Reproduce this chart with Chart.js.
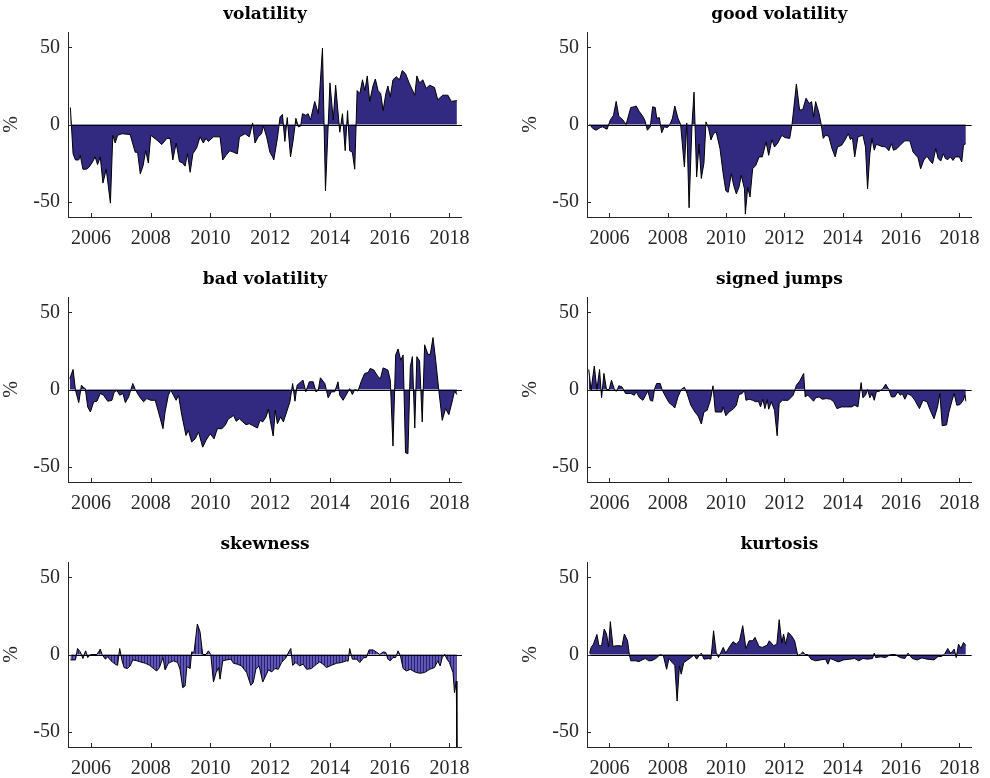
<!DOCTYPE html>
<html>
<head>
<meta charset="utf-8">
<script src="https://cdn.jsdelivr.net/npm/chart.js"></script>
<style>
  body { margin: 0; background: #fff; overflow: hidden; }
  #wrap { position: relative; width: 990px; height: 778px; }
  #wrap canvas { position: absolute; }
</style>
</head>
<body>
<div id="wrap">
  <canvas id="c1" width="480" height="248" style="left:0;top:0"></canvas>
  <canvas id="c2" width="471" height="248" style="left:519px;top:0"></canvas>
  <canvas id="c3" width="480" height="248" style="left:0;top:265px"></canvas>
  <canvas id="c4" width="471" height="248" style="left:519px;top:265px"></canvas>
  <canvas id="c5" width="480" height="248" style="left:0;top:530px"></canvas>
  <canvas id="c6" width="471" height="248" style="left:519px;top:530px"></canvas>
</div>
<script>
// tick labels
const yearTicks = [2006, 2008, 2010, 2012, 2014, 2016, 2018];
const pctTicks = [-50, 0, 50];

// volatility
const volYears = [2005.31,2005.40,2005.48,2005.59,2005.64,2005.73,2005.84,2005.92,2006.03,2006.14,
  2006.22,2006.31,2006.40,2006.51,2006.65,2006.73,2006.81,2006.89,2007.04,2007.31,
  2007.48,2007.56,2007.65,2007.74,2007.83,2007.92,2008.00,2008.20,2008.37,2008.54,
  2008.65,2008.74,2008.85,2008.96,2009.07,2009.15,2009.23,2009.32,2009.41,2009.54,
  2009.65,2009.76,2009.85,2009.93,2010.10,2010.32,2010.41,2010.52,2010.65,2010.77,
  2010.90,2010.97,2011.16,2011.30,2011.41,2011.49,2011.60,2011.71,2011.77,2011.88,
  2011.99,2012.08,2012.12,2012.24,2012.33,2012.41,2012.49,2012.57,2012.68,2012.77,
  2012.86,2012.94,2013.02,2013.08,2013.19,2013.27,2013.35,2013.49,2013.61,2013.75,
  2013.85,2014.00,2014.11,2014.19,2014.33,2014.42,2014.51,2014.59,2014.66,2014.75,
  2014.83,2014.91,2015.00,2015.09,2015.17,2015.25,2015.33,2015.44,2015.52,2015.61,
  2015.70,2015.78,2015.87,2015.94,2016.02,2016.11,2016.22,2016.33,2016.42,2016.53,
  2016.65,2016.84,2016.91,2017.00,2017.11,2017.22,2017.34,2017.50,2017.61,2017.69,
  2017.78,2017.95,2018.06,2018.25];
const volValues = [11,-19,-23,-23,-20,-29,-29,-28,-25,-21,
  -26,-21,-38,-29,-51,-7,-12,-7,-6,-6.5,
  -18,-18,-32,-27,-17,-25,-7,-10,-13,-9,
  -9,-23,-12,-24,-25,-27,-19,-31,-19,-15,
  -8,-12,-9,-11,-8,-8,-23,-20,-17,-18,
  -19,-8,-6,-8,1,-12,-8,-6,-1,-8,
  -18,-21,-23,-9,5,6.5,-11,4.5,-21,-10,
  4,-1.5,-1,7,6,7,3,15,7,49.5,
  -43,27,3,25.5,-5,7,-17,9,-17,-18,
  -29,22,20,29,22,31.5,15,25,29.5,22,
  20,9,20,25,18,29,31,29,35,33,
  27,19,31.5,27,29,23.5,25.5,24,16,17.5,
  19,19,15,15.5];

// good volatility
const goodYears = [2005.32,2005.43,2005.54,2005.68,2005.77,2005.88,2005.92,2006.03,2006.14,2006.23,
  2006.32,2006.46,2006.57,2006.73,2006.85,2006.92,2007.01,2007.12,2007.21,2007.30,
  2007.40,2007.48,2007.57,2007.62,2007.71,2007.79,2007.88,2007.99,2008.07,2008.16,
  2008.24,2008.35,2008.44,2008.57,2008.65,2008.73,2008.83,2008.90,2008.99,2009.07,
  2009.15,2009.24,2009.31,2009.40,2009.48,2009.57,2009.66,2009.79,2009.90,2009.99,
  2010.07,2010.18,2010.26,2010.35,2010.44,2010.52,2010.63,2010.66,2010.74,2010.82,
  2010.91,2011.02,2011.13,2011.24,2011.37,2011.46,2011.57,2011.66,2011.77,2011.91,
  2012.02,2012.18,2012.26,2012.41,2012.52,2012.63,2012.74,2012.85,2012.93,2013.00,
  2013.07,2013.19,2013.26,2013.33,2013.41,2013.52,2013.63,2013.74,2013.82,2013.96,
  2014.08,2014.19,2014.26,2014.33,2014.41,2014.52,2014.69,2014.78,2014.85,2014.93,
  2015.00,2015.08,2015.15,2015.30,2015.47,2015.58,2015.67,2015.74,2015.86,2016.00,
  2016.13,2016.30,2016.41,2016.58,2016.67,2016.78,2016.89,2017.00,2017.08,2017.19,
  2017.27,2017.36,2017.45,2017.52,2017.60,2017.69,2017.78,2017.86,2018.00,2018.08,
  2018.14,2018.22];
const goodValues = [0,-2.6,-3.7,-2,-1.5,-2.8,-3,3,6,15,
  5.4,3,0,11,11.5,12,8.7,6,3,-3.7,
  -1.5,11.5,11,4,4.5,-5.4,-1.5,-2,0,4,
  12,4,0,-27.6,1,-54,0,21,-34,-12.8,
  -35,-25,1.7,-2.6,-10,-5.9,-4.8,-15.6,-32,-43,
  -44,-32,-39.6,-45,-40.7,-33,-41.7,-58,-40.7,-47,
  -28.7,-26.5,-21,-21,-11.3,-20,-9.8,-14.6,-12,-7,
  -8.5,-9,0,26.3,9.3,9.8,17,13.7,14.8,5,
  14.8,7,0,-9,-7,-7.6,-15.6,-21,-14.6,-13.5,
  -10,-5.9,-9.8,-8.5,-21,-8,-7,-14.6,-41.7,-19,
  -9,-16.7,-12.8,-14,-14.6,-17,-12.4,-16.7,-15.6,-12.8,
  -10.6,-10.6,-17.8,-21.5,-28.7,-23,-20.6,-23.7,-25.4,-15.6,
  -22,-23.7,-19,-22,-22.8,-21,-23.3,-21,-21,-24.3,
  -13.5,-12.4];

// bad volatility
const badYears = [2005.29,2005.40,2005.48,2005.59,2005.68,2005.76,2005.81,2005.89,2005.98,2006.09,
  2006.20,2006.31,2006.42,2006.56,2006.70,2006.78,2006.87,2006.96,2007.07,2007.15,
  2007.26,2007.40,2007.48,2007.63,2007.76,2007.87,2008.00,2008.15,2008.26,2008.41,
  2008.48,2008.59,2008.67,2008.76,2008.85,2008.93,2009.04,2009.18,2009.26,2009.37,
  2009.49,2009.60,2009.74,2009.85,2009.99,2010.12,2010.23,2010.38,2010.49,2010.60,
  2010.71,2010.77,2010.86,2010.97,2011.08,2011.19,2011.30,2011.41,2011.57,2011.66,
  2011.75,2011.86,2011.94,2012.01,2012.10,2012.17,2012.24,2012.35,2012.44,2012.55,
  2012.66,2012.75,2012.83,2012.90,2013.05,2013.10,2013.19,2013.31,2013.44,2013.53,
  2013.61,2013.68,2013.83,2013.94,2014.05,2014.16,2014.27,2014.33,2014.44,2014.57,
  2014.66,2014.75,2014.83,2014.94,2015.05,2015.16,2015.28,2015.35,2015.47,2015.61,
  2015.69,2015.78,2015.87,2015.94,2016.02,2016.11,2016.20,2016.28,2016.37,2016.45,
  2016.53,2016.61,2016.69,2016.76,2016.84,2016.91,2017.00,2017.09,2017.17,2017.28,
  2017.36,2017.45,2017.54,2017.65,2017.76,2017.87,2017.98,2018.09,2018.17,2018.25];
const badValues = [7,13,-0.4,-8.5,2.8,1,0.6,-11.3,-14.6,-8,
  -7.6,-2.6,-3.7,-7.6,-7,-1.5,-0.7,-3.7,-2.6,-8.5,
  -4.8,3.9,0,-4.8,-8,-5.9,-7,-7,-14.6,-25.4,
  -14.6,-3.7,-0.4,-3.7,-7,-3.7,-16.7,-29.8,-26.5,-34,
  -32,-27.6,-37.4,-33,-28.7,-32,-25.4,-25.4,-23.3,-19,
  -17.8,-16.7,-20.6,-19,-21,-22.8,-22.2,-23.3,-25,-20,
  -21,-17.8,-12.8,-21,-30.2,-13.5,-22.2,-17.8,-21,-14.6,
  -8,3.9,-7.6,2.8,5.4,6,-1.5,5,5,-1.5,
  -0.4,7.6,3.9,-5.4,-1.5,-1.5,5,-3.7,-7,-2.6,
  0.6,-3.3,0,-1,5.4,10.4,11,13.7,12.6,8.3,
  7,14,13.3,12.6,6,-36.7,22.4,26.3,19,22.4,
  -41,-41.7,14.8,21.3,-25,21.3,18.5,-21,29,22.8,
  22.8,33.7,19,-1.5,-20,-12.4,-16.3,-8,-1,-3.3];

// signed jumps
const jumpYears = [2005.29,2005.37,2005.48,2005.57,2005.66,2005.73,2005.81,2005.90,2005.99,2006.07,
  2006.18,2006.26,2006.32,2006.43,2006.55,2006.73,2006.85,2006.92,2007.03,2007.15,
  2007.23,2007.32,2007.40,2007.48,2007.55,2007.62,2007.74,2007.81,2007.90,2008.04,
  2008.15,2008.24,2008.35,2008.46,2008.57,2008.66,2008.79,2008.93,2009.04,2009.15,
  2009.24,2009.35,2009.46,2009.55,2009.63,2009.74,2009.85,2009.90,2009.99,2010.10,
  2010.26,2010.35,2010.44,2010.55,2010.63,2010.68,2010.79,2010.91,2011.02,2011.11,
  2011.18,2011.26,2011.33,2011.41,2011.46,2011.55,2011.66,2011.75,2011.82,2011.93,
  2012.13,2012.30,2012.41,2012.52,2012.66,2012.71,2012.80,2012.89,2013.00,2013.07,
  2013.19,2013.30,2013.44,2013.58,2013.69,2013.80,2013.96,2014.13,2014.30,2014.41,
  2014.52,2014.63,2014.69,2014.78,2014.85,2014.93,2015.00,2015.08,2015.15,2015.27,
  2015.38,2015.47,2015.58,2015.67,2015.78,2015.89,2015.97,2016.04,2016.13,2016.22,
  2016.36,2016.47,2016.63,2016.75,2016.89,2017.00,2017.13,2017.25,2017.33,2017.41,
  2017.56,2017.64,2017.75,2017.82,2017.91,2018.02,2018.13,2018.19,2018.22];
const jumpValues = [13,-0.4,15.2,0,13,-5.4,10.4,0,0,6,
  -0.7,-1,2.4,1.7,-2.6,-2.6,-3.7,-1.5,-5.4,-7,
  -4.1,-1,-7,-7.6,0.6,3.9,3.9,-0.4,-3.7,-8.5,
  -10.2,-12,-4.8,0,1.5,-2.6,-10.2,-14.6,-17.2,-22.4,
  -14.6,-13.5,-7,2.4,-14.6,-14.6,-14.6,-11.3,-17,-14.6,
  -12.4,-10.2,-3.3,-2.6,-0.4,-7,-6.3,-7,-8,-7.6,
  -11.3,-6.3,-12.4,-6.5,-12.8,-8,-13.5,-30,-9,-7,
  -7,-3.7,2.8,5.4,10.4,-4.8,-3.7,-5.4,-7.6,-5.4,
  -4.8,-6.3,-5.9,-6.3,-8,-12.4,-11.3,-11.3,-11.3,-10.2,
  -11.3,4.5,-5.4,-3.7,0,-5.4,-2.6,-7,-1.5,-1,
  0.6,3.5,0,-4.8,-4.8,-1.5,-3.7,-2.6,-6.3,-2.6,
  -4.1,-7,-12.4,-7,-8,-13.5,-19,-11.3,-2.6,-23.5,
  -23,-14.6,-7,-2.6,-10.2,-9.8,-7,-3.7,-7.6];

// skewness
const skewYears = [2005.31,2005.48,2005.55,2005.64,2005.73,2005.82,2005.89,2005.98,2006.20,2006.31,
  2006.37,2006.48,2006.56,2006.67,2006.81,2006.89,2006.96,2007.04,2007.11,2007.22,
  2007.31,2007.40,2007.54,2007.65,2007.82,2007.96,2008.09,2008.20,2008.29,2008.41,
  2008.48,2008.59,2008.76,2008.90,2008.98,2009.07,2009.15,2009.21,2009.32,2009.37,
  2009.45,2009.56,2009.65,2009.74,2009.85,2009.93,2010.01,2010.10,2010.19,2010.27,
  2010.32,2010.41,2010.54,2010.68,2010.77,2010.90,2011.04,2011.21,2011.35,2011.43,
  2011.52,2011.63,2011.75,2011.82,2011.94,2012.05,2012.16,2012.27,2012.38,2012.53,
  2012.64,2012.69,2012.75,2012.86,2012.99,2013.10,2013.22,2013.38,2013.55,2013.66,
  2013.77,2013.88,2014.05,2014.22,2014.39,2014.55,2014.61,2014.66,2014.75,2014.89,
  2015.00,2015.13,2015.22,2015.31,2015.44,2015.55,2015.67,2015.78,2015.87,2015.94,
  2016.02,2016.11,2016.20,2016.28,2016.36,2016.45,2016.56,2016.69,2016.84,2017.00,
  2017.17,2017.34,2017.50,2017.61,2017.69,2017.76,2017.84,2017.92,2018.00,2018.12,
  2018.17,2018.23,2018.25];
const skewValues = [-3.5,-3.5,3.9,1.7,-2.6,2.4,-2,0,0,3.5,
  0,-3,-1.5,-4.1,-6.3,-7,3.9,-4.1,-8.5,-9.1,
  -7.4,-3.5,-4.1,-4.8,-5.7,-7,-9.1,-10.7,-8.5,-2,
  -10,-5.7,-4.1,-5.2,-9.6,-21.5,-20.4,-7.8,-9.1,1.7,
  1.3,19.8,14.8,0,0,2.4,0,-17.8,-11.7,-8.5,
  -16,-4.1,-3.5,-3,-5.7,-6.3,-7.4,-11.7,-20,-18.3,
  -9.6,-7.4,-17.8,-15,-10,-11.3,-9.1,-9.6,-5.2,-2,
  2.4,3.9,-7,-5.2,-7.4,-6.3,-9.6,-9.1,-6.3,-4.8,
  -6.3,-8.5,-7,-5.7,-5.2,-4.1,-4.3,3.9,-3,-3,
  -5.2,-2,-2,3,3,1.7,0,1.7,1.3,-3,
  -4.1,-2,-2,2.4,-0.9,-9.1,-10.7,-9.6,-11.3,-12.2,
  -11.7,-9.6,-8.5,-4.1,-7.4,-2,0.2,-3,-5.2,-11.7,
  -24.8,-17.2,-61];

// kurtosis
const kurtYears = [2005.32,2005.37,2005.45,2005.57,2005.64,2005.73,2005.82,2005.90,2005.97,2006.03,
  2006.12,2006.23,2006.37,2006.43,2006.51,2006.62,2006.68,2006.73,2006.90,2007.01,
  2007.12,2007.23,2007.35,2007.46,2007.59,2007.74,2007.85,2007.96,2008.04,2008.15,
  2008.24,2008.32,2008.40,2008.46,2008.55,2008.68,2008.79,2008.90,2008.99,2009.07,
  2009.15,2009.24,2009.40,2009.48,2009.57,2009.66,2009.74,2009.82,2009.90,2009.99,
  2010.10,2010.24,2010.35,2010.46,2010.57,2010.68,2010.79,2010.91,2010.99,2011.13,
  2011.24,2011.41,2011.48,2011.63,2011.74,2011.82,2011.91,2011.97,2012.04,2012.13,
  2012.24,2012.35,2012.46,2012.55,2012.63,2012.71,2012.80,2012.91,2013.07,2013.24,
  2013.41,2013.49,2013.57,2013.69,2013.85,2014.02,2014.24,2014.41,2014.55,2014.69,
  2014.85,2015.02,2015.08,2015.13,2015.30,2015.47,2015.63,2015.80,2015.97,2016.13,
  2016.24,2016.38,2016.56,2016.71,2016.89,2017.13,2017.27,2017.38,2017.49,2017.60,
  2017.69,2017.75,2017.82,2017.89,2017.97,2018.05,2018.14,2018.19,2018.22];
const kurtValues = [0.8,4.6,6.7,13,5.7,5.7,16.5,13.3,5.2,21.3,
  5.2,5.7,5.7,5.2,13.3,9,0.2,-4.1,-4.1,-4.6,
  -3.5,-2.6,-4.1,-3.9,-2.6,0,-0.9,-9.6,-2.6,-5.2,
  -7,-30.2,-7.4,-12.8,-5.2,-3.5,-2,-0.4,-3,-0.9,
  0.9,-3,-2.6,-3,15.4,1.3,-2,1.3,4.6,0.9,
  4.6,8.3,6.7,8.9,18.7,3.9,8.9,8.9,11.1,5.2,
  4.6,6.1,8.9,5.7,6.7,22.6,7.4,13.3,6.7,14.3,
  12.2,8.9,-0.9,0.2,1.7,0,0,-3,-4.1,-3.5,
  -3,-6.3,-2.6,-3.5,-4.8,-3.5,-3,-2.6,-4.1,-2.6,
  -3,-2.6,0.9,-2,-1.5,-2,0,0,-2,-2.6,
  0.9,-2.6,-3.5,-2.2,-3,-3.5,-1.3,-1.3,0.2,3.9,
  0.9,1.7,3.5,-2,6.7,3.9,7.8,6.7,5.7];

const axisColor = '#262626';
const areaColor = '#312a80';
const tickFont = { family: 'Liberation Serif', size: 20 };

// skewness is drawn with a striped fill in the original
function hatchFill() {
  const c = document.createElement('canvas');
  c.width = 3; c.height = 4;
  const g = c.getContext('2d');
  g.fillStyle = '#5f57b2';
  g.fillRect(0, 0, 3, 4);
  g.fillStyle = '#29227a';
  g.fillRect(0, 0, 1, 4);
  return g.createPattern(c, 'repeat');
}

// inward ticks + zero line, like the original figure
const axisDecor = {
  id: 'axisDecor',
  afterDatasetsDraw(chart) {
    const { ctx, chartArea: a, scales: { x, y } } = chart;
    ctx.save();
    ctx.lineWidth = 1;
    ctx.strokeStyle = '#000';
    const y0 = Math.round(y.getPixelForValue(0)) + 0.5;
    ctx.beginPath();
    ctx.moveTo(a.left, y0);
    ctx.lineTo(a.right, y0);
    ctx.stroke();
    ctx.strokeStyle = axisColor;
    ctx.beginPath();
    x.ticks.forEach(t => {
      const px = Math.round(x.getPixelForValue(t.value)) + 0.5;
      ctx.moveTo(px, a.bottom);
      ctx.lineTo(px, a.bottom - 4);
    });
    y.ticks.forEach(t => {
      const py = Math.round(y.getPixelForValue(t.value)) + 0.5;
      ctx.moveTo(a.left, py);
      ctx.lineTo(a.left + 4, py);
    });
    ctx.stroke();
    ctx.restore();
  }
};

function makePanel(id, title, xs, ys, fill, padRight) {
  const points = xs.map((v, i) => ({ x: v, y: ys[i] }));
  new Chart(document.getElementById(id), {
    type: 'line',
    data: {
      datasets: [{
        data: points,
        borderColor: '#000',
        borderWidth: 1,
        backgroundColor: fill,
        fill: 'origin',
        pointRadius: 0,
        tension: 0
      }]
    },
    options: {
      responsive: false,
      animation: false,
      devicePixelRatio: 1,
      layout: { padding: { left: 0, right: padRight, top: 0, bottom: 0 } },
      plugins: {
        legend: { display: false },
        tooltip: { enabled: false },
        title: {
          display: true,
          text: title,
          fullSize: false,
          color: '#000',
          font: { family: 'DejaVu Serif', weight: 'bold', size: 17 },
          padding: { top: 4, bottom: 7.6 }
        }
      },
      scales: {
        x: {
          type: 'linear',
          min: 2005.23,
          max: 2018.42,
          grid: { display: false, drawTicks: false },
          border: { display: true, color: axisColor, width: 1 },
          ticks: {
            font: tickFont, color: axisColor, padding: 10,
            maxRotation: 0, autoSkip: false,
            callback: v => String(v)
          },
          afterBuildTicks: s => { s.ticks = yearTicks.map(v => ({ value: v })); },
          afterFit: s => { s.height = 31; }
        },
        y: {
          min: -60,
          max: 60,
          grid: { display: false, drawTicks: false },
          border: { display: true, color: axisColor, width: 1 },
          ticks: { font: tickFont, color: axisColor, padding: 8 },
          title: { display: true, text: '%', font: tickFont, color: axisColor, padding: 0 },
          afterBuildTicks: s => { s.ticks = pctTicks.map(v => ({ value: v })); },
          afterFit: s => { s.width = 68; }
        }
      }
    },
    plugins: [axisDecor]
  });
}

makePanel('c1', 'volatility', volYears, volValues, areaColor, 18);
makePanel('c2', 'good volatility', goodYears, goodValues, areaColor, 9);
makePanel('c3', 'bad volatility', badYears, badValues, areaColor, 18);
makePanel('c4', 'signed jumps', jumpYears, jumpValues, areaColor, 9);
makePanel('c5', 'skewness', skewYears, skewValues, hatchFill(), 18);
makePanel('c6', 'kurtosis', kurtYears, kurtValues, areaColor, 9);
</script>
</body>
</html>
